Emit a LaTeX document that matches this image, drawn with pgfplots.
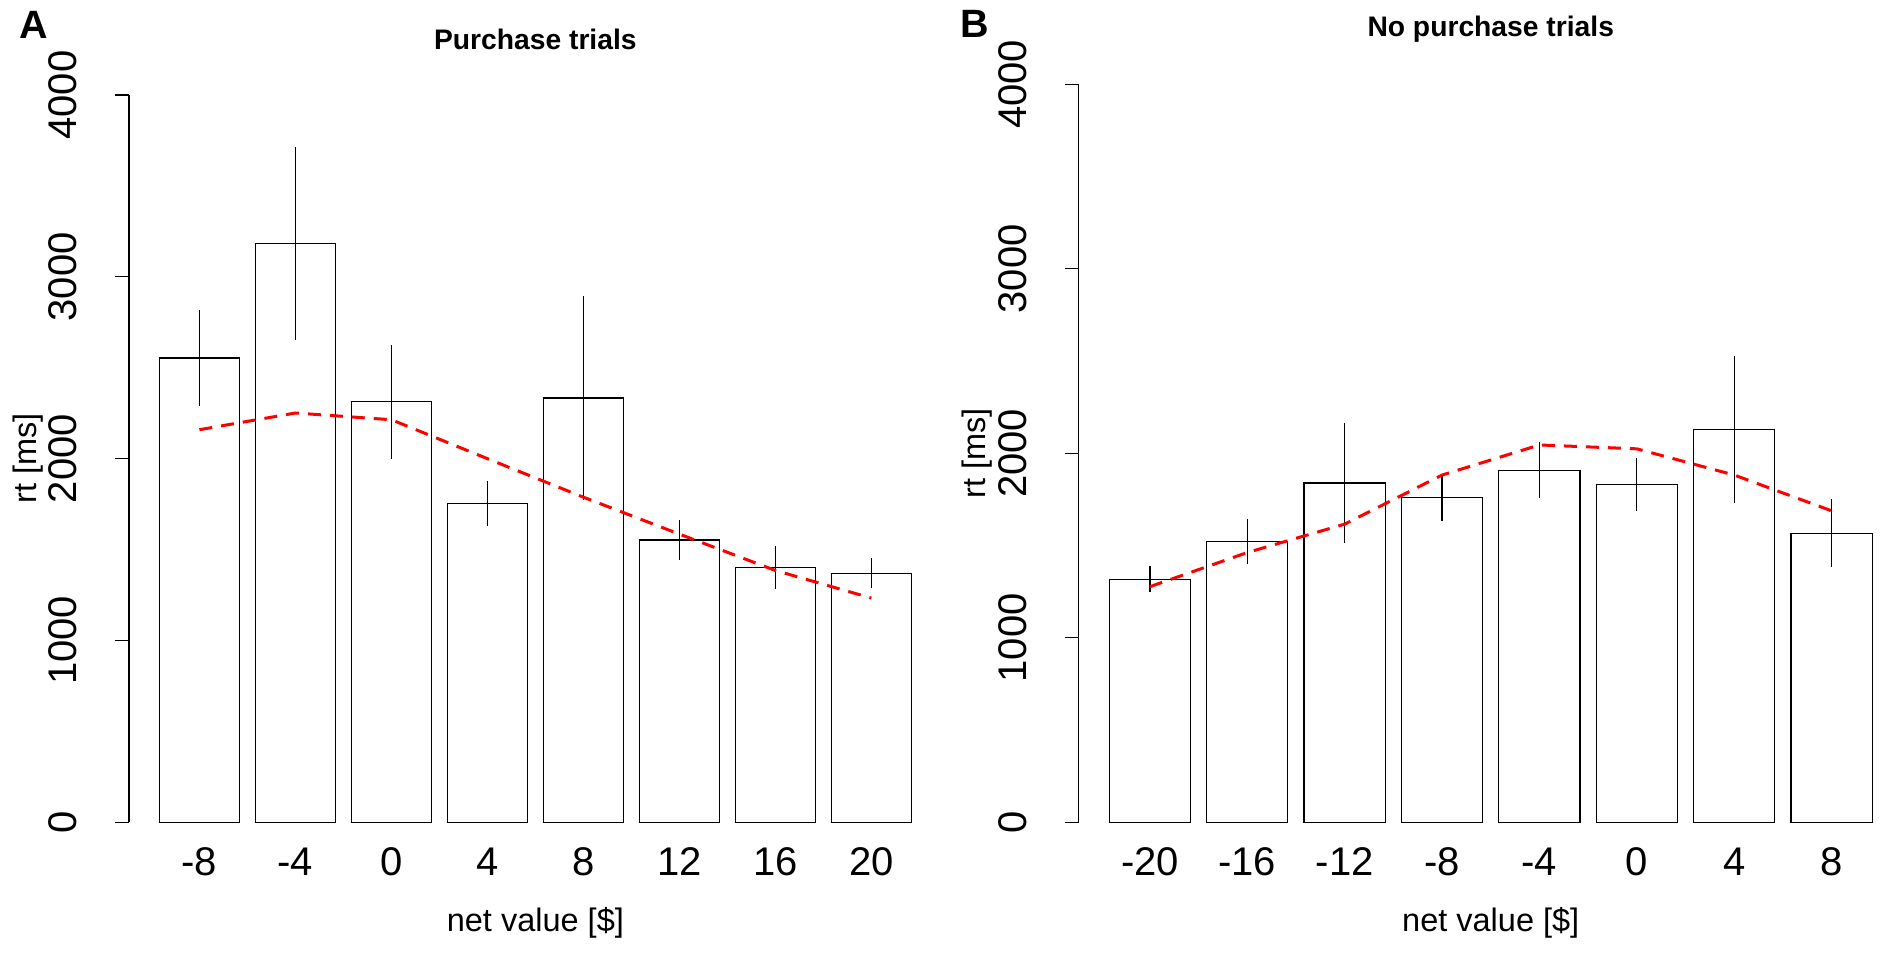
\documentclass[border=0pt]{standalone}
\usepackage{fontspec}
\setmainfont{Liberation Sans}
\usepackage{pgfplots}
\usepackage{pgfplotstable}
\pgfplotsset{compat=1.18}

% means, standard errors and the smoothed fit
\pgfplotstableread{
x  rt    se   fit
0  2553  262  2159
1  3183  531  2251
2  2313  314  2214
3  1752  124  2000
4  2333  560  1788
5  1552  108  1585
6  1402  119  1385
7  1369   82  1233
}\purchase

\pgfplotstableread{
x  rt    se   fit
0  1317   70  1277
1  1520  122  1462
2  1839  326  1616
3  1760  127  1882
4  1908  152  2045
5  1832  145  2024
6  2130  397  1882
7  1567  186  1688
}\nopurchase

\pgfplotsset{
  rtpanel/.style={
    anchor=south west, scale only axis,
    xmin=-0.7333, xmax=7.7333, ymin=0, ymax=4000,
    axis lines=left, axis line style={-, line width=0.5pt},
    x axis line style={draw=none},
    xtick={0,...,7}, xtick style={draw=none},
    ytick={0,1000,2000,3000,4000},
    yticklabels={0,1000,2000,3000,4000},
    ytick style={black, line width=0.5pt},
    tick align=outside, major tick length=5.6pt,
    tick label style={font=\fontsize{16}{16}\selectfont},
    yticklabel style={rotate=90, anchor=base, yshift=15.2pt},
    xticklabel style={anchor=base, yshift=-15.5pt},
    xlabel={net value [\$]}, ylabel={rt [ms]},
    label style={font=\fontsize{13}{13}\selectfont},
    xlabel style={at={(axis description cs:0.5,0)}, anchor=center, yshift=-40.4pt},
    ylabel style={at={(axis description cs:0,0.5)}, anchor=center, rotate=0, yshift=40.4pt},
    title style={at={(axis description cs:0.5,1)}, anchor=base,
      font=\bfseries\fontsize{11.3}{11.3}\selectfont},
    clip=false,
  },
  rtbars/.style={ybar, bar width=0.8333, fill=white, draw=black, line width=0.5pt,
    error bars/.cd, y dir=both, y explicit, error mark=none,
    error bar style={black, line width=0.5pt}},
  rtfit/.style={red, line width=1.2pt, dash pattern=on 5.2pt off 3.6pt},
}

\begin{document}
\begin{tikzpicture}
\useasboundingbox (0,0) rectangle (755.6pt,-380.8pt);

\begin{axis}[rtpanel, at={(51.6pt,-328.9pt)}, width=325.1pt, height=290.9pt,
  xticklabels={-8,-4,0,4,8,12,16,20},
  title={Purchase trials}, title style={yshift=12.3pt}]
\addplot[rtbars] table[x=x, y=rt, y error=se] {\purchase};
\addplot[rtfit] table[x=x, y=fit] {\purchase};
\end{axis}

\begin{axis}[rtpanel, at={(431.4pt,-328.9pt)}, width=329.8pt, height=295.2pt,
  xticklabels={-20,-16,-12,-8,-4,0,4,8},
  title={No purchase trials}, title style={yshift=13pt}]
\addplot[rtbars] table[x=x, y=rt, y error=se] {\nopurchase};
\addplot[rtfit] table[x=x, y=fit] {\nopurchase};
\end{axis}

\node[anchor=base west, inner sep=0pt, font=\bfseries\fontsize{15.8}{15.8}\selectfont]
  at (7.6pt,-15.3pt) {A};
\node[anchor=base west, inner sep=0pt, font=\bfseries\fontsize{15.8}{15.8}\selectfont]
  at (383.8pt,-14.9pt) {B};
\end{tikzpicture}
\end{document}
